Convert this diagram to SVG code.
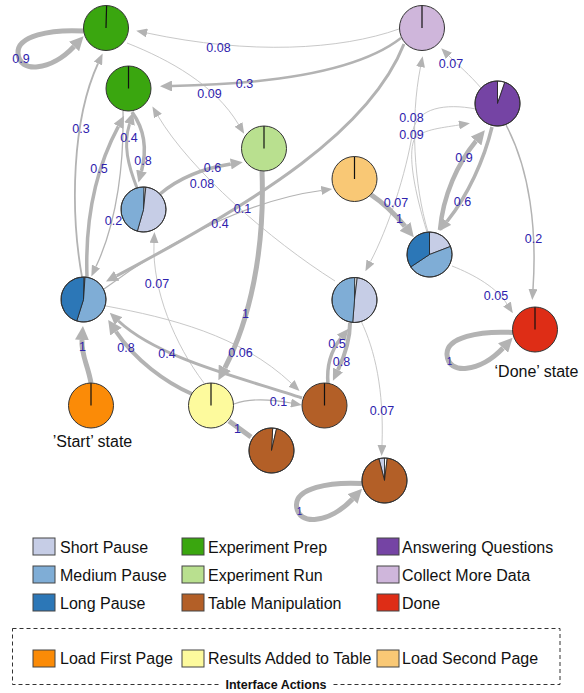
<svg xmlns="http://www.w3.org/2000/svg" width="584" height="693" viewBox="0 0 584 693">
<defs>
<style>
.e{fill:none;stroke:#b3b3b3;stroke-linecap:butt}
.t{stroke:#c2c2c2;stroke-width:0.9}
.l{font-family:"Liberation Sans",Arial,sans-serif;font-size:12.5px;fill:#2e22ad;text-anchor:middle}
.ls{font-size:10px}
.nd{fill:none;stroke:#333;stroke-width:1}
.sl{stroke:#222;stroke-width:0.8}
.rad{stroke:#111;stroke-width:1.2}
.lg{font-family:"Liberation Sans",Arial,sans-serif;font-size:16px;fill:#111}
.sw{stroke:#444;stroke-width:1}
.cap{font-family:"Liberation Sans",Arial,sans-serif;font-size:12.5px;font-weight:bold;fill:#111;text-anchor:middle}
.st{font-family:"Liberation Sans",Arial,sans-serif;font-size:16px;fill:#111;text-anchor:middle}
</style>
<marker id="aS" markerUnits="userSpaceOnUse" markerWidth="11" markerHeight="9" viewBox="0 -4.5 11 9" refX="0" refY="0" orient="auto"><path d="M0,-4.5L11,0L0,4.5Z" fill="#b3b3b3"/></marker>
<marker id="aM" markerUnits="userSpaceOnUse" markerWidth="12" markerHeight="11" viewBox="0 -5.5 12 11" refX="0" refY="0" orient="auto"><path d="M0,-5.5L12,0L0,5.5Z" fill="#b3b3b3"/></marker>
<marker id="aL" markerUnits="userSpaceOnUse" markerWidth="14" markerHeight="14" viewBox="0 -7 14 14" refX="0" refY="0" orient="auto"><path d="M0,-7L14,0L0,7Z" fill="#b3b3b3"/></marker>
</defs>

<g id="connectors">
<path class="e t" d="M399 29 C340 50 250 55 147 33" marker-end="url(#aS)"/>
<path class="e t" d="M127 43 C170 60 215 85 238.5 124.4" marker-end="url(#aS)"/>
<path class="e t" d="M481 88 C470 75 458 65 449 56" marker-end="url(#aS)"/>
<path class="e t" d="M476 109 C445 103 418 108 413 130 C406 175 388 228 370.5 261.6" marker-end="url(#aS)"/>
<path class="e t" d="M427 232 C414 190 408 155 414 140 C420 130 440 128 459 125" marker-end="url(#aS)"/>
<path class="e t" d="M428 232 C414 185 410 120 420.5 67" marker-end="url(#aS)"/>
<path class="e" style="stroke-width:1.5" d="M506 125 C530 170 537 230 533 289" marker-end="url(#aS)"/>
<path class="e t" d="M452 266 C475 275 497 288 507 304" marker-end="url(#aS)"/>
<path class="e" style="stroke-width:1.2" d="M104 289 C170 240 250 200 321.3 190.5" marker-end="url(#aS)"/>
<path class="e" style="stroke-width:1.8" d="M82 277 C70 210 72 120 98 63.5" marker-end="url(#aS)"/>
<path class="e" style="stroke-width:1.3" d="M123 111 C124 160 118 220 96 266.5" marker-end="url(#aS)"/>
<path class="e t" d="M335 281 C270 240 190 170 158 116" marker-end="url(#aS)"/>
<path class="e t" d="M204 383 C175 345 152 290 154 243" marker-end="url(#aS)"/>
<path class="e t" d="M106 306 C170 318 240 335 291.5 383.4" marker-end="url(#aS)"/>
<path class="e" style="stroke-width:1.2" d="M234 404 C250 398 270 399 291 403" marker-end="url(#aS)"/>
<path class="e t" d="M361 321 C375 350 384 390 382 445" marker-end="url(#aS)"/>
<path class="e" style="stroke-width:2.5" d="M401 38 C360 70 280 84 172 86" marker-end="url(#aM)"/>
<path class="e" style="stroke-width:3" d="M404 44 C370 130 260 200 116.6 275.8" marker-end="url(#aM)"/>
<path class="e" style="stroke-width:3.5" d="M87 277 C85 220 95 170 118.4 126.4" marker-end="url(#aM)"/>
<path class="e" style="stroke-width:3.5" d="M132 112 C145 130 147 150 141.5 171" marker-end="url(#aM)"/>
<path class="e" style="stroke-width:3" d="M137 188 C128 165 123 145 129.5 124" marker-end="url(#aM)"/>
<path class="e" style="stroke-width:3.5" d="M160 194 C180 177 205 168 230.8 164" marker-end="url(#aM)"/>
<path class="e" style="stroke-width:3" d="M302 398 C250 380 160 360 118.5 321" marker-end="url(#aM)"/>
<path class="e" style="stroke-width:3.5" d="M328 384 C326 362 333 348 341 338" marker-end="url(#aM)"/>
<path class="e" style="stroke-width:4" d="M350 323 C350 340 345 355 338 370" marker-end="url(#aM)"/>
<path class="e" style="stroke-width:3.5" d="M492 127 C484 160 468 195 447 221.5" marker-end="url(#aM)"/>
<path class="e" style="stroke-width:4.5" d="M440 230 C443 195 458 163 476 141" marker-end="url(#aL)"/>
<path class="e" style="stroke-width:5" d="M370 194 C382 202 395 214 405 226.4" marker-end="url(#aL)"/>
<path class="e" style="stroke-width:5" d="M262 171 C265 250 250 320 224.9 367.8" marker-end="url(#aL)"/>
<path class="e" style="stroke-width:5" d="M91 383 C88 365 81 355 82 340" marker-end="url(#aL)"/>
<path class="e" style="stroke-width:4" d="M192 394 C165 382 135 360 116 331.6" marker-end="url(#aL)"/>
<path class="e" style="stroke-width:5" d="M229 421 L251 437"/>
<path class="e" style="stroke-width:5" transform="translate(106,28)" d="M-22 3 C-56 1 -89 8 -88 25 C-87 46 -55 43 -32 18.5" marker-end="url(#aL)"/>
<path class="e" style="stroke-width:5" transform="translate(384.5,480.5)" d="M-22 3 C-56 1 -89 8 -88 25 C-87 46 -55 43 -32 18.5" marker-end="url(#aL)"/>
<path class="e" style="stroke-width:5" transform="translate(535,329.5)" d="M-22 3 C-56 1 -89 8 -88 25 C-87 46 -55 43 -32 18.5" marker-end="url(#aL)"/>
<text class="l" x="21" y="63">0.9</text>
<text class="l" x="218.5" y="51.5">0.08</text>
<text class="l" x="244.5" y="88">0.3</text>
<text class="l" x="209.5" y="98">0.09</text>
<text class="l" x="451" y="68">0.07</text>
<text class="l" x="411.5" y="122">0.08</text>
<text class="l" x="411.5" y="139">0.09</text>
<text class="l" x="464" y="162">0.9</text>
<text class="l" x="462.5" y="206">0.6</text>
<text class="l" x="396" y="206.5">0.07</text>
<text class="l" x="399.5" y="223">1</text>
<text class="l" x="533.5" y="243">0.2</text>
<text class="l" x="496" y="300">0.05</text>
<text class="l" x="81" y="133">0.3</text>
<text class="l" x="99" y="173">0.5</text>
<text class="l" x="129" y="142">0.4</text>
<text class="l" x="143" y="165">0.8</text>
<text class="l" x="212.5" y="172">0.6</text>
<text class="l" x="202" y="188">0.08</text>
<text class="l" x="113.5" y="224.5">0.2</text>
<text class="l" x="242.5" y="213">0.1</text>
<text class="l" x="220" y="228">0.4</text>
<text class="l" x="157" y="287.5">0.07</text>
<text class="l" x="245.5" y="318">1</text>
<text class="l" x="82.5" y="351">1</text>
<text class="l" x="126" y="352">0.8</text>
<text class="l" x="167" y="358">0.4</text>
<text class="l" x="240.5" y="356.5">0.06</text>
<text class="l" x="278.5" y="406">0.1</text>
<text class="l" x="237.5" y="433">1</text>
<text class="l" x="337" y="348">0.5</text>
<text class="l" x="341.5" y="366">0.8</text>
<text class="l" x="382" y="415">0.07</text>
<text class="l ls" x="299.5" y="515">1</text>
<text class="l ls" x="449.5" y="365">1</text>
</g>

<g id="n1"><circle cx="106" cy="28" r="22.5" fill="#3aa60f"/><line class="rad" x1="106" y1="28" x2="106.6" y2="5.5"/><circle class="nd" cx="106" cy="28" r="22.5"/></g>
<g id="n2"><circle cx="128.5" cy="88.5" r="22.5" fill="#3aa60f"/><line class="rad" x1="128.5" y1="88.5" x2="128.5" y2="66"/><circle class="nd" cx="128.5" cy="88.5" r="22.5"/></g>
<g id="n3"><circle cx="264" cy="148.5" r="22.5" fill="#b9e08f"/><line class="rad" x1="264" y1="148.5" x2="264" y2="126"/><circle class="nd" cx="264" cy="148.5" r="22.5"/></g>
<g id="n4"><circle cx="422" cy="28" r="22.5" fill="#cfb6db"/><line class="rad" x1="422" y1="28" x2="422" y2="5.5"/><circle class="nd" cx="422" cy="28" r="22.5"/></g>
<g id="n5">
<path class="sl" d="M497.5 103.5 L497.5 81 A22.5 22.5 0 0 1 504.83 82.23 Z" fill="#fff"/>
<path class="sl" d="M497.5 103.5 L504.83 82.23 A22.5 22.5 0 1 1 497.5 81 Z" fill="#7544a4"/>
<circle class="nd" cx="497.5" cy="103.5" r="22.5"/></g>
<g id="n6"><circle cx="354.5" cy="179" r="22.5" fill="#f9c875"/><line class="rad" x1="354.5" y1="179" x2="354.5" y2="156.5"/><circle class="nd" cx="354.5" cy="179" r="22.5"/></g>
<g id="n7">
<path class="sl" d="M429.5 254.5 L429.5 232 A22.5 22.5 0 0 1 450.51 246.44 Z" fill="#c6cde6"/>
<path class="sl" d="M429.5 254.5 L450.51 246.44 A22.5 22.5 0 0 1 410.74 266.92 Z" fill="#7fadd6"/>
<path class="sl" d="M429.5 254.5 L410.74 266.92 A22.5 22.5 0 0 1 429.5 232 Z" fill="#2c77b7"/>
<circle class="nd" cx="429.5" cy="254.5" r="22.5"/></g>
<g id="n8"><circle cx="535" cy="329.5" r="22.5" fill="#de2d16"/><line class="rad" x1="535" y1="329.5" x2="535" y2="307"/><circle class="nd" cx="535" cy="329.5" r="22.5"/></g>
<g id="n9">
<path class="sl" d="M354.5 300 L354.7 277.5 A22.5 22.5 0 0 1 357.24 277.67 Z" fill="#fff"/>
<path class="sl" d="M354.5 300 L357.24 277.67 A22.5 22.5 0 0 1 352.7 322.43 Z" fill="#c6cde6"/>
<path class="sl" d="M354.5 300 L352.7 322.43 A22.5 22.5 0 0 1 354.7 277.5 Z" fill="#7fadd6"/>
<circle class="nd" cx="354.5" cy="300" r="22.5"/></g>
<g id="n10">
<path class="sl" d="M143.5 209.5 L143.89 187 A22.5 22.5 0 0 1 145.85 187.12 Z" fill="#fff"/>
<path class="sl" d="M143.5 209.5 L145.85 187.12 A22.5 22.5 0 1 1 137.3 231.13 Z" fill="#c6cde6"/>
<path class="sl" d="M143.5 209.5 L137.3 231.13 A22.5 22.5 0 0 1 143.89 187 Z" fill="#7fadd6"/>
<circle class="nd" cx="143.5" cy="209.5" r="22.5"/></g>
<g id="n11">
<path class="sl" d="M83.5 299.5 L83.89 277 A22.5 22.5 0 0 1 85.07 277.05 Z" fill="#c6cde6"/>
<path class="sl" d="M83.5 299.5 L85.07 277.05 A22.5 22.5 0 1 1 76.73 320.96 Z" fill="#7fadd6"/>
<path class="sl" d="M83.5 299.5 L76.73 320.96 A22.5 22.5 0 0 1 83.89 277 Z" fill="#2c77b7"/>
<circle class="nd" cx="83.5" cy="299.5" r="22.5"/></g>
<g id="n12"><circle cx="91" cy="405.5" r="22.5" fill="#fb8b07"/><line class="rad" x1="91" y1="405.5" x2="91" y2="383"/><circle class="nd" cx="91" cy="405.5" r="22.5"/></g>
<g id="n13"><circle cx="211" cy="405.5" r="22.5" fill="#fdfa9d"/><line class="rad" x1="211" y1="405.5" x2="211" y2="383"/><circle class="nd" cx="211" cy="405.5" r="22.5"/></g>
<g id="n14">
<path class="sl" d="M271.5 450.5 L272.68 428.03 A22.5 22.5 0 0 1 276.56 428.58 Z" fill="#fff"/>
<path class="sl" d="M271.5 450.5 L276.56 428.58 A22.5 22.5 0 1 1 272.68 428.03 Z" fill="#b35f27"/>
<circle class="nd" cx="271.5" cy="450.5" r="22.5"/></g>
<g id="n15"><circle cx="324.5" cy="405.5" r="22.5" fill="#b35f27"/><line class="rad" x1="324.5" y1="405.5" x2="324.5" y2="383"/><circle class="nd" cx="324.5" cy="405.5" r="22.5"/></g>
<g id="n16">
<path class="sl" d="M384.5 480.5 L378.9 458.71 A22.5 22.5 0 0 1 384.5 458 Z" fill="#c6cde6"/>
<path class="sl" d="M384.5 480.5 L384.5 458 A22.5 22.5 0 0 1 387.24 458.17 Z" fill="#fff"/>
<path class="sl" d="M384.5 480.5 L387.24 458.17 A22.5 22.5 0 1 1 378.9 458.71 Z" fill="#b35f27"/>
<circle class="nd" cx="384.5" cy="480.5" r="22.5"/></g>

<g id="state-labels">
<text class="st" x="92.5" y="447">’Start’ state</text>
<text class="st" x="536.5" y="377">‘Done’ state</text>
</g>

<g id="legend">
<rect class="sw" x="33" y="538" width="22" height="17" fill="#c6cde6"/><text class="lg" x="60" y="552.5">Short Pause</text>
<rect class="sw" x="33" y="566" width="22" height="17" fill="#7fadd6"/><text class="lg" x="60" y="580.5">Medium Pause</text>
<rect class="sw" x="33" y="594" width="22" height="17" fill="#2c77b7"/><text class="lg" x="60" y="608.5">Long Pause</text>
<rect class="sw" x="182" y="538" width="22" height="17" fill="#3aa60f"/><text class="lg" x="208" y="552.5">Experiment Prep</text>
<rect class="sw" x="182" y="566" width="22" height="17" fill="#b9e08f"/><text class="lg" x="208" y="580.5">Experiment Run</text>
<rect class="sw" x="182" y="594" width="22" height="17" fill="#b35f27"/><text class="lg" x="208" y="608.5">Table Manipulation</text>
<rect class="sw" x="377" y="538" width="22" height="17" fill="#7544a4"/><text class="lg" x="402" y="552.5">Answering Questions</text>
<rect class="sw" x="377" y="566" width="22" height="17" fill="#cfb6db"/><text class="lg" x="402" y="580.5">Collect More Data</text>
<rect class="sw" x="377" y="594" width="22" height="17" fill="#de2d16"/><text class="lg" x="402" y="608.5">Done</text>
<rect x="12.5" y="628.5" width="547.5" height="56" fill="none" stroke="#333" stroke-width="1" stroke-dasharray="4 3"/>
<rect class="sw" x="33" y="650" width="22" height="17" fill="#fb8b07"/><text class="lg" x="60" y="664">Load First Page</text>
<rect class="sw" x="182" y="650" width="22" height="17" fill="#fdfa9d"/><text class="lg" x="208" y="664">Results Added to Table</text>
<rect class="sw" x="377" y="650" width="22" height="17" fill="#f9c875"/><text class="lg" x="402" y="664">Load Second Page</text>
<rect x="219" y="678" width="114" height="14" fill="#fff"/>
<text class="cap" x="276" y="689">Interface Actions</text>
</g>
</svg>
